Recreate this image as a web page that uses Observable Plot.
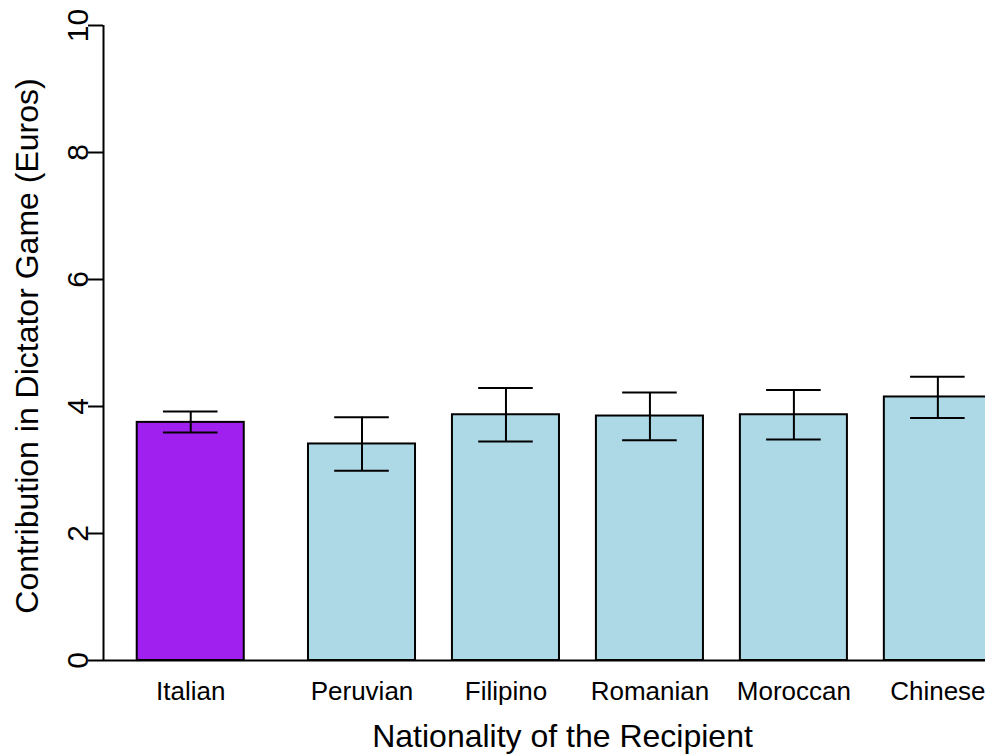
<!DOCTYPE html>
<html>
<head>
<meta charset="utf-8">
<script src="https://cdn.jsdelivr.net/npm/d3@7"></script>
<script src="https://cdn.jsdelivr.net/npm/@observablehq/plot@0.6"></script>
<style>
  html, body { margin: 0; padding: 0; background: #fff; }
  #chart svg { display: block; }
</style>
</head>
<body>
<div id="chart"></div>
<script>
// ---- data ----
const nationalities = ["Italian", "Peruvian", "Filipino", "Romanian", "Moroccan", "Chinese"];
const means = [3.75, 3.41, 3.87, 3.85, 3.87, 4.15];
const lowerCI = [3.59, 2.99, 3.45, 3.47, 3.48, 3.82];
const upperCI = [3.92, 3.83, 4.29, 4.22, 4.26, 4.47];
const yTicks = [0, 2, 4, 6, 8, 10];
const xTitle = "Nationality of the Recipient";
const yTitle = "Contribution in Dictator Game (Euros)";

// ---- layout (R barplot style: unit-width bars separated by spaces) ----
const space = [0, 0.6, 0.345, 0.345, 0.345, 0.345];
const lefts = [];
nationalities.forEach((_, i) => {
  lefts.push(i === 0 ? 0 : lefts[i - 1] + 1 + space[i]);
});
const rows = nationalities.map((name, i) => ({
  name,
  mean: means[i],
  lo: lowerCI[i],
  hi: upperCI[i],
  x1: lefts[i],
  x2: lefts[i] + 1,
  xc: lefts[i] + 0.5,
  fill: i === 0 ? "#A020F0" : "#ADD8E6"
}));
const xDomain = [-0.315, 7.925];
const capHalf = 0.255;
const font = "'Liberation Sans', Arial, Helvetica, sans-serif";

const chart = Plot.plot({
  width: 985,
  height: 755,
  marginLeft: 103,
  marginRight: 0,
  marginTop: 25,
  marginBottom: 95,
  style: { fontFamily: font, background: "#fff", color: "#000" },
  x: { type: "linear", domain: xDomain, axis: null },
  y: { domain: [0, 10] },
  color: { type: "identity" },
  marks: [
    // baseline
    Plot.ruleY([0], { x1: () => xDomain[0], x2: () => xDomain[1], stroke: "#000", strokeWidth: 2 }),
    // bars
    Plot.rect(rows, { x1: "x1", x2: "x2", y1: () => 0, y2: "mean", fill: "fill", stroke: "#000", strokeWidth: 2 }),
    // error bars
    Plot.ruleX(rows, { x: "xc", y1: "lo", y2: "hi", stroke: "#000", strokeWidth: 2 }),
    Plot.ruleY(rows, { y: "hi", x1: d => d.xc - capHalf, x2: d => d.xc + capHalf, stroke: "#000", strokeWidth: 2 }),
    Plot.ruleY(rows, { y: "lo", x1: d => d.xc - capHalf, x2: d => d.xc + capHalf, stroke: "#000", strokeWidth: 2 }),
    // y axis line
    Plot.ruleX([xDomain[0]], { y1: () => 0, y2: () => 10, stroke: "#000", strokeWidth: 2 }),
    // y ticks
    Plot.axisY({ ticks: yTicks, tickSize: 15, tickFormat: () => "", label: null, strokeWidth: 2, stroke: "#000" }),
    // y tick labels (rotated, R style)
    Plot.text(yTicks, { y: d => d, text: d => String(d), frameAnchor: "left", dx: -25.5, rotate: -90,
      textAnchor: "middle", lineAnchor: "middle", fontSize: 30, fill: "#000" }),
    // x category labels
    Plot.text(rows, { x: "xc", text: "name", frameAnchor: "bottom", dy: 31, textAnchor: "middle",
      lineAnchor: "middle", fontSize: 26, fill: "#000" }),
    // x title
    Plot.text([xTitle], { text: d => d, frameAnchor: "bottom", dx: 18, dy: 76, textAnchor: "middle",
      lineAnchor: "middle", fontSize: 32, fill: "#000" }),
    // y title
    Plot.text([yTitle], { text: d => d, frameAnchor: "left", dx: -76, dy: 3, rotate: -90, textAnchor: "middle",
      lineAnchor: "middle", fontSize: 32, fill: "#000" })
  ]
});
document.getElementById("chart").appendChild(chart);
</script>
</body>
</html>
